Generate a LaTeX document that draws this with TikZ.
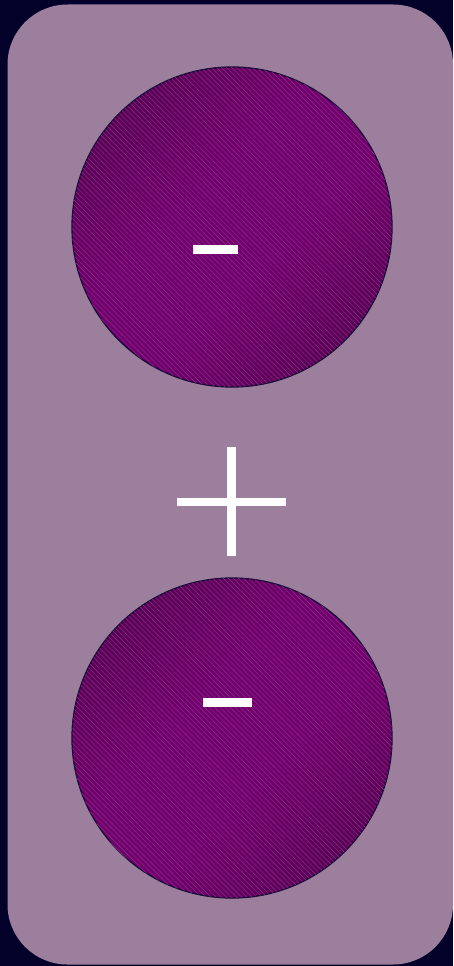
\documentclass[tikz,border=0pt]{standalone}
\usetikzlibrary{patterns.meta}
\definecolor{bgnavy}{HTML}{03002A}
\definecolor{panel}{HTML}{9C7F9C}
\definecolor{discdark}{HTML}{42043F}
\definecolor{disclight}{HTML}{72006E}
\definecolor{hatchc}{HTML}{8E3088}
\definecolor{rim}{HTML}{1A0838}
\pgfdeclareverticalshading{discshade}{100bp}{
  color(0bp)=(discdark); color(12bp)=(discdark); color(30bp)=(discdark!35!disclight); color(42bp)=(disclight);
  color(58bp)=(disclight); color(70bp)=(discdark!35!disclight); color(88bp)=(discdark); color(100bp)=(discdark)}
\tikzset{
  disc/.style={circle, minimum size=320pt, inner sep=0pt, draw=rim, line width=1.3pt,
    shading=discshade, shading angle=45,
    postaction={pattern={Lines[angle=-45,distance=3.6pt,line width=0.45pt]}, pattern color=hatchc}},
  signbar/.style={fill=white, draw=none}
}
\begin{document}
\begin{tikzpicture}[x=1pt,y=-1pt]
\fill[bgnavy] (0,0) rectangle (453,966);
\useasboundingbox (0,0) rectangle (453,966);
\fill[panel, rounded corners=60pt] (7.5,4.5) rectangle (453,964.5);
\node[disc] (topdisc) at (232,227) {};
\node[disc] (botdisc) at (232,738) {};
% minus signs
\fill[signbar] (193,245) rectangle (238,253.5);
\fill[signbar] (203,698) rectangle (252,706.5);
% plus sign
\coordinate (plusc) at (231.5,501.5);
\fill[signbar] (227,447) rectangle (236,556);
\fill[signbar] (177,497.5) rectangle (285.5,506);
\end{tikzpicture}
\end{document}
